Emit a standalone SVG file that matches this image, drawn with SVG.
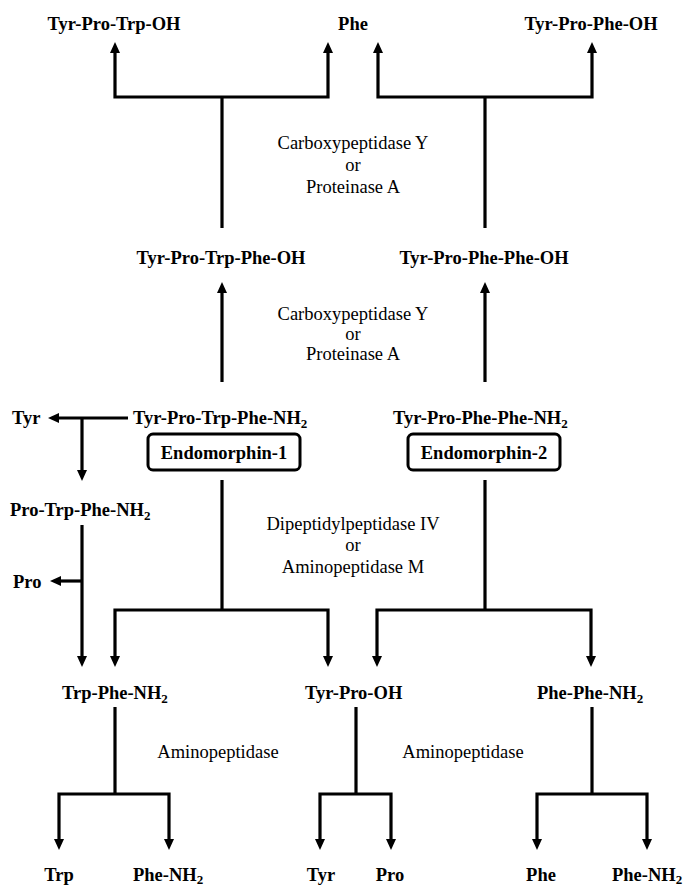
<svg xmlns="http://www.w3.org/2000/svg" width="687" height="888" viewBox="0 0 687 888">
<style>
.lbl{font-family:"Liberation Serif","Times New Roman",serif;font-weight:bold;font-size:18.5px;fill:#000}
.enz{font-family:"Liberation Serif","Times New Roman",serif;font-size:18.5px;fill:#000;text-anchor:middle}
.sub{font-size:13px}
.c{text-anchor:middle}
.ln{fill:none;stroke:#000;stroke-width:3.2;stroke-linejoin:miter}
.ar{fill:none;stroke:#000;stroke-width:3.2;marker-end:url(#ah)}
.box{fill:#fff;stroke:#000;stroke-width:3}
</style>
<defs>
<marker id="ah" markerUnits="userSpaceOnUse" markerWidth="12" markerHeight="10" refX="0" refY="5" orient="auto" viewBox="0 0 12 10">
<path d="M0,0 L11,5 L0,10 Z" fill="#000"/>
</marker>
</defs>
<rect width="687" height="888" fill="#fff"/>

<g id="connectors">
<!-- top left tree -->
<path class="ln" d="M222,228 V97"/>
<path class="ar" d="M222,97 H115 V53"/>
<path class="ar" d="M222,97 H328 V53"/>
<!-- top right tree -->
<path class="ln" d="M485,228 V97"/>
<path class="ar" d="M485,97 H378 V53"/>
<path class="ar" d="M485,97 H592 V53"/>
<!-- middle vertical arrows -->
<path class="ar" d="M222,382 V293"/>
<path class="ar" d="M485,382 V293"/>
<!-- Tyr branch -->
<path class="ar" d="M128,418 H59"/>
<path class="ar" d="M82,418 V470"/>
<!-- Pro-Trp-Phe-NH2 to Trp-Phe-NH2 -->
<path class="ar" d="M82,525 V656"/>
<path class="ar" d="M82,581 H61"/>
<!-- Endomorphin-1 split -->
<path class="ln" d="M222,480 V610"/>
<path class="ar" d="M222,610 H115 V656"/>
<path class="ar" d="M222,610 H328 V656"/>
<!-- Endomorphin-2 split -->
<path class="ln" d="M485,480 V610"/>
<path class="ar" d="M485,610 H377 V656"/>
<path class="ar" d="M485,610 H591 V656"/>
<!-- bottom trees -->
<path class="ln" d="M115,707 V794"/>
<path class="ar" d="M115,794 H59 V839"/>
<path class="ar" d="M115,794 H169 V839"/>
<path class="ln" d="M356,707 V794"/>
<path class="ar" d="M356,794 H320 V839"/>
<path class="ar" d="M356,794 H391 V839"/>
<path class="ln" d="M592,707 V794"/>
<path class="ar" d="M592,794 H537 V839"/>
<path class="ar" d="M592,794 H647 V839"/>
</g>

<g id="n-tyr-pro-trp-oh"><text class="lbl c" x="114" y="30">Tyr-Pro-Trp-OH</text></g>
<g id="n-phe-top"><text class="lbl c" x="353" y="30">Phe</text></g>
<g id="n-tyr-pro-phe-oh"><text class="lbl c" x="591" y="30">Tyr-Pro-Phe-OH</text></g>

<g id="e-top"><text class="enz" x="353" y="149">Carboxypeptidase Y</text><text class="enz" x="353" y="171">or</text><text class="enz" x="353" y="193">Proteinase A</text></g>

<g id="n-tyr-pro-trp-phe-oh"><text class="lbl c" x="221" y="264">Tyr-Pro-Trp-Phe-OH</text></g>
<g id="n-tyr-pro-phe-phe-oh"><text class="lbl c" x="484" y="264">Tyr-Pro-Phe-Phe-OH</text></g>

<g id="e-mid"><text class="enz" x="353" y="320">Carboxypeptidase Y</text><text class="enz" x="353" y="340">or</text><text class="enz" x="353" y="360">Proteinase A</text></g>

<g id="n-tyr"><text class="lbl" x="12" y="424">Tyr</text></g>
<g id="n-em1-seq"><text class="lbl" x="133" y="424">Tyr-Pro-Trp-Phe-NH<tspan class="sub" dy="4">2</tspan></text></g>
<g id="n-em2-seq"><text class="lbl" x="393" y="424">Tyr-Pro-Phe-Phe-NH<tspan class="sub" dy="4">2</tspan></text></g>

<g id="n-endomorphin-1"><rect class="box" x="148" y="434" width="152" height="36" rx="5"/><text class="lbl c" x="224" y="459">Endomorphin-1</text></g>
<g id="n-endomorphin-2"><rect class="box" x="408" y="434" width="152" height="36" rx="5"/><text class="lbl c" x="484" y="459">Endomorphin-2</text></g>

<g id="n-pro-trp-phe-nh2"><text class="lbl" x="10" y="516">Pro-Trp-Phe-NH<tspan class="sub" dy="4">2</tspan></text></g>
<g id="n-pro"><text class="lbl" x="13" y="588">Pro</text></g>

<g id="e-dpp"><text class="enz" x="353" y="530">Dipeptidylpeptidase IV</text><text class="enz" x="353" y="551">or</text><text class="enz" x="353" y="573">Aminopeptidase M</text></g>

<g id="n-trp-phe-nh2"><text class="lbl" x="62" y="699">Trp-Phe-NH<tspan class="sub" dy="4">2</tspan></text></g>
<g id="n-tyr-pro-oh"><text class="lbl" x="305" y="699">Tyr-Pro-OH</text></g>
<g id="n-phe-phe-nh2"><text class="lbl" x="537" y="699">Phe-Phe-NH<tspan class="sub" dy="4">2</tspan></text></g>

<g id="e-amino-1"><text class="enz" x="218" y="758">Aminopeptidase</text></g>
<g id="e-amino-2"><text class="enz" x="463" y="758">Aminopeptidase</text></g>

<g id="n-trp"><text class="lbl c" x="59" y="881">Trp</text></g>
<g id="n-phe-nh2-1"><text class="lbl" x="133" y="881">Phe-NH<tspan class="sub" dy="3">2</tspan></text></g>
<g id="n-tyr-b"><text class="lbl c" x="321" y="881">Tyr</text></g>
<g id="n-pro-b"><text class="lbl c" x="390" y="881">Pro</text></g>
<g id="n-phe-b"><text class="lbl c" x="541" y="881">Phe</text></g>
<g id="n-phe-nh2-2"><text class="lbl" x="612" y="881">Phe-NH<tspan class="sub" dy="3">2</tspan></text></g>
</svg>
